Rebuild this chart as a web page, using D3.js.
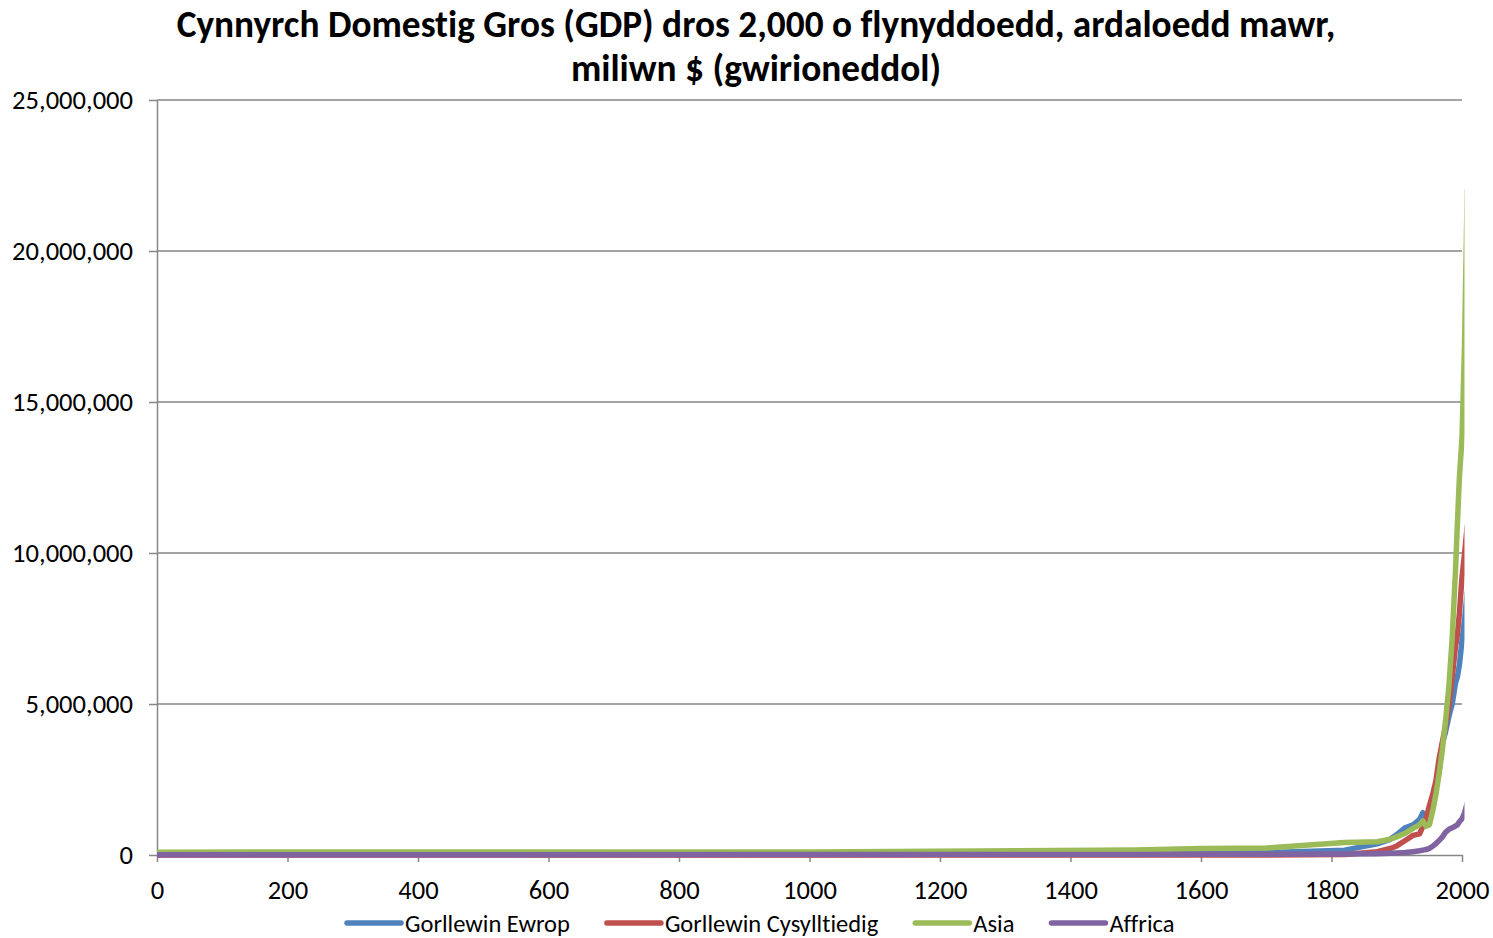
<!DOCTYPE html>
<html><head><meta charset="utf-8">
<script src="https://cdn.jsdelivr.net/npm/d3@7"></script>
<style>body{margin:0;background:#fff} svg{display:block} text{font-variant-ligatures:none;font-feature-settings:"liga" 0}</style>
</head><body>
<svg id="chart" width="1493" height="938"></svg>
<script>
// ---- data (million $, real) ----
const years = [1, 1000, 1500, 1600, 1700, 1820, 1870, 1890, 1900, 1913, 1925, 1935, 1940, 1945, 1950, 1955, 1960, 1965, 1970, 1975, 1980, 1985, 1990, 1993, 1996, 2000, 2004, 2008];
const westernEurope = [11115, 10165, 44183, 65640, 81213, 160000, 367600, 520000, 676000, 902000, 1000000, 1180000, 1400000, 1150000, 1396000, 1800000, 2250000, 2800000, 3700000, 4100000, 4600000, 5000000, 5700000, 5900000, 6300000, 7100000, 7800000, 8700000];
const westernOffshoots = [468, 784, 1120, 1120, 1000, 13500, 111000, 215000, 300000, 480000, 650000, 700000, 950000, 1200000, 1630000, 2000000, 2450000, 3200000, 3750000, 4300000, 5000000, 5900000, 6900000, 7300000, 8000000, 9200000, 10000000, 10900000];
const asia = [95000, 100000, 165000, 215000, 230000, 412000, 440000, 520000, 600000, 720000, 880000, 1000000, 1130000, 950000, 1000000, 1450000, 2000000, 2700000, 3500000, 4500000, 5600000, 7200000, 9400000, 11000000, 12500000, 13800000, 17000000, 22000000];
const africa = [8000, 13700, 18400, 22000, 24400, 31200, 45200, 60000, 67000, 79500, 110000, 140000, 160000, 180000, 220000, 290000, 380000, 480000, 600000, 760000, 850000, 900000, 960000, 1000000, 1100000, 1200000, 1400000, 1720000];
const seriesNames = ["Gorllewin Ewrop", "Gorllewin Cysylltiedig", "Asia", "Affrica"];
const seriesColors = ["#4F81BD", "#C0504D", "#9BBB59", "#8064A2"];
const xTicks = [0, 200, 400, 600, 800, 1000, 1200, 1400, 1600, 1800, 2000];
const yTicks = [0, 5000000, 10000000, 15000000, 20000000, 25000000];
const titleLines = ["Cynnyrch Domestig Gros (GDP) dros 2,000 o flynyddoedd, ardaloedd mawr,", "miliwn $ (gwirioneddol)"];

const FONT = "Carlito, Calibri, Lato, sans-serif";
const svg = d3.select("#chart");
const L = 157, R = 1462, T = 100, B = 855;
const x = d3.scaleLinear().domain([0, 2000]).range([L, R]);
const y = d3.scaleLinear().domain([0, 25000000]).range([B, T]);

function fitWidth(sel, target) {
  const w = sel.node().getComputedTextLength();
  const fs = parseFloat(sel.attr("font-size"));
  const nfs = fs * target / w;
  sel.attr("font-size", nfs);
  return nfs;
}

// title
const cx = 756;
const t1 = svg.append("text").attr("x", cx).attr("y", 37).attr("text-anchor", "middle")
  .attr("font-family", FONT).attr("font-weight", "bold").attr("font-size", 30).attr("fill", "#000").text(titleLines[0]);
const tfs = fitWidth(t1, 1159);
svg.append("text").attr("x", cx).attr("y", 81).attr("text-anchor", "middle")
  .attr("font-family", FONT).attr("font-weight", "bold").attr("font-size", tfs).attr("fill", "#000").text(titleLines[1]);

// measure tick font size
const probe = svg.append("text").attr("font-family", FONT).attr("font-size", 24).text("25,000,000");
const tickFs = fitWidth(probe, 121);
probe.remove();

// gridlines
svg.append("g").selectAll("line").data(yTicks.filter(d => d > 0)).join("line")
  .attr("x1", L).attr("x2", R).attr("y1", d => y(d)).attr("y2", d => y(d))
  .attr("stroke", "#868686").attr("stroke-width", 1.5);

// y axis
const gy = svg.append("g").attr("transform", `translate(${L},0)`)
  .call(d3.axisLeft(y).tickValues(yTicks).tickSize(8).tickSizeOuter(0).tickPadding(16).tickFormat(d3.format(",")));
gy.select(".domain").attr("stroke", "#868686").attr("stroke-width", 1.5);
gy.selectAll(".tick line").attr("stroke", "#868686").attr("stroke-width", 1.5);
gy.selectAll(".tick text").attr("font-family", FONT).attr("font-size", tickFs).attr("fill", "#000");

// x axis
const gx = svg.append("g").attr("transform", `translate(0,${B})`)
  .call(d3.axisBottom(x).tickValues(xTicks).tickSize(7).tickSizeOuter(0).tickPadding(18).tickFormat(d3.format("d")));
gx.select(".domain").attr("stroke", "#868686").attr("stroke-width", 1.5);
gx.selectAll(".tick line").attr("stroke", "#868686").attr("stroke-width", 1.5);
gx.selectAll(".tick text").attr("font-family", FONT).attr("font-size", tickFs).attr("fill", "#000");

// clip
svg.append("defs").append("clipPath").attr("id", "plotclip").append("rect")
  .attr("x", L).attr("y", T - 5).attr("width", R - L + 2.5).attr("height", B - T + 10);

const seriesValues = [westernEurope, westernOffshoots, asia, africa];
const line = d3.line().x(d => x(d[0])).y(d => y(d[1]));
const gl = svg.append("g").attr("clip-path", "url(#plotclip)");
seriesValues.forEach((vals, i) => {
  gl.append("path").datum(years.map((yr, j) => [yr, vals[j]]))
    .attr("d", line).attr("fill", "none").attr("stroke", seriesColors[i])
    .attr("stroke-width", 5.5).attr("stroke-linejoin", "round").attr("stroke-linecap", "round");
});

// legend
const probe2 = svg.append("text").attr("font-family", FONT).attr("font-size", 24).text(seriesNames[0]);
const legFs = fitWidth(probe2, 165);
probe2.remove();
let lx = 347;
const ly = 923;
seriesNames.forEach((name, i) => {
  svg.append("line").attr("x1", lx).attr("x2", lx + 54).attr("y1", ly).attr("y2", ly)
    .attr("stroke", seriesColors[i]).attr("stroke-width", 5.5).attr("stroke-linecap", "round");
  const t = svg.append("text").attr("x", lx + 58).attr("y", ly).attr("dy", "0.35em")
    .attr("font-family", FONT).attr("font-size", legFs).attr("fill", "#000").text(name);
  lx = lx + 58 + t.node().getComputedTextLength() + 37;
});
</script>
</body></html>
